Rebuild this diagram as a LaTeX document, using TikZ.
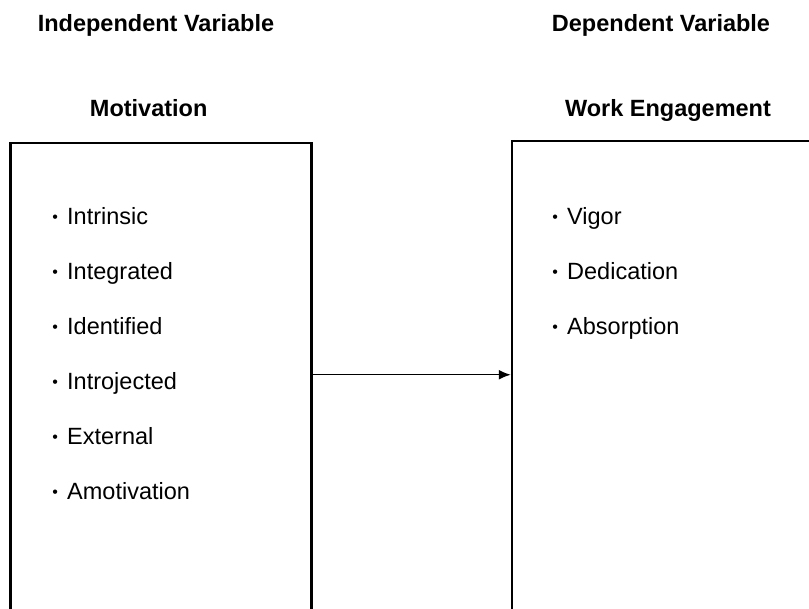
\documentclass[tikz,border=0pt]{standalone}
\usepackage{fontspec}
\setmainfont{Liberation Sans}
\usetikzlibrary{arrows.meta}

\newcommand{\itemdot}{{\fontsize{16}{16}\selectfont\raisebox{2.2pt}{•}}\hspace{9.2pt}}

\begin{document}
\begin{tikzpicture}[x=1pt,y=1pt,
    font=\fontsize{23.5}{28}\selectfont,
    line/.style={draw, -{Latex[length=12pt,width=10pt]}, line width=1.5pt},
    panel/.style={draw, line width=2.5pt, anchor=north west, minimum width=301pt, minimum height=520pt, inner sep=0pt},
    heading/.style={font=\fontsize{23.5}{28}\selectfont\bfseries, anchor=base, inner sep=0pt},
    entry/.style={anchor=base west, inner sep=0pt},
    ]
    \path [use as bounding box, clip] (0,0) rectangle (809,-609);

    % Place nodes
    \node [heading] (iv) at (156,-32) {Independent Variable};
    \node [heading] (dv) at (661,-32) {Dependent Variable};
    \node [heading] (motiv) at (148.7,-117) {Motivation};
    \node [heading] (work) at (668,-117) {Work Engagement};

    \node [panel] (mbox) at (9.25,-141.75) {}; % runs off the page
    \node [panel, minimum width=340pt] (ebox) at (510.75,-139.75) {};

    \foreach \txt [count=\i] in {Intrinsic,Integrated,Identified,Introjected,External,Amotivation}
      \node [entry] (m\i) at (52.2,{-225-55*(\i-1)}) {\itemdot\txt};
    \foreach \txt [count=\i] in {Vigor,Dedication,Absorption}
      \node [entry] (e\i) at (552.2,{-225-55*(\i-1)}) {\itemdot\txt};

    % Draw edges
    \path [line] ([yshift=-233pt]mbox.north east) -- ([yshift=-235pt]ebox.north west);
\end{tikzpicture}
\end{document}
